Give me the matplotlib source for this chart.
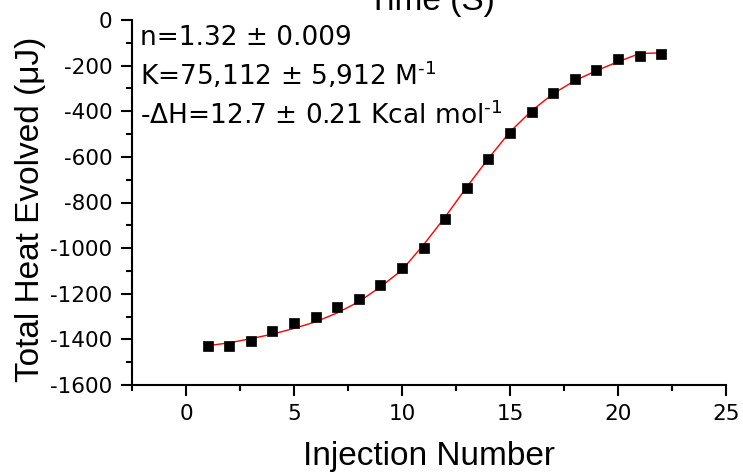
import matplotlib
matplotlib.use("Agg")
import matplotlib.pyplot as plt
from matplotlib.ticker import MultipleLocator

plt.rcParams["axes.unicode_minus"] = False

# ---- data ----
injection = [1, 2, 3, 4, 5, 6, 7, 8, 9, 10, 11, 12, 13, 14, 15, 16, 17, 18, 19, 20, 21, 22]
heat = [-1430, -1428, -1408, -1365, -1329, -1304, -1260, -1225, -1162, -1089, -999,
        -874, -736, -609, -495, -405, -319, -260, -217, -173, -157, -151]
fit = [-1428, -1415, -1397, -1377, -1352, -1323, -1284, -1235, -1170, -1096, -985,
       -863, -732, -607, -490, -398, -323, -266, -222, -183, -147, -144]
x_ticks = [0, 5, 10, 15, 20, 25]
y_ticks = [0, -200, -400, -600, -800, -1000, -1200, -1400, -1600]
annotations = ["n=1.32 ± 0.009",
               r"K=75,112 ± 5,912 M$^{\text{-}1}$",
               r"-ΔH=12.7 ± 0.21 Kcal mol$^{\text{-}1}$"]

W, H = 743, 475
fig = plt.figure(figsize=(W / 100, H / 100), dpi=100)
left, right, bottom, top = 132, 726, 385, 20
ax = fig.add_axes([left / W, 1 - bottom / H, (right - left) / W, (bottom - top) / H])

ax.plot(injection, fit, color="#ff0000", lw=1.0, zorder=2)
ax.plot(injection, heat, "s", color="black", ms=7.6, mec="black", mew=0.5, zorder=3)

ax.set_xlim(-2.5, 25)
ax.set_ylim(-1600, 0)
ax.set_xticks(x_ticks)
ax.set_yticks(y_ticks)
ax.xaxis.set_minor_locator(MultipleLocator(2.5))
ax.yaxis.set_minor_locator(MultipleLocator(100))

for s in ("top", "right"):
    ax.spines[s].set_visible(False)
for s in ("left", "bottom"):
    ax.spines[s].set_linewidth(1.5)

ax.tick_params(which="major", direction="out", length=8, width=1.5, labelsize=15.5, pad=6)
ax.tick_params(which="minor", direction="out", length=4.5, width=1.5)
for lab in ax.get_xticklabels() + ax.get_yticklabels():
    lab.set_family("DejaVu Sans")

ax.set_xlabel("Injection Number", fontsize=24, family="Liberation Sans", labelpad=12)
ax.set_ylabel("Total Heat Evolved (μJ)", fontsize=24, family="Liberation Sans")
ax.yaxis.set_label_coords((46 - left) / (right - left), 0.481)

ys = [0.9315, 0.822, 0.715]
for txt, y in zip(annotations, ys):
    ax.text(0.0135, y, txt, transform=ax.transAxes, fontsize=19,
            family="DejaVu Sans", va="baseline", ha="left")

fig.text(431 / W, 1 - 10 / H, "Time (S)", fontsize=24, family="Liberation Sans",
         ha="center", va="baseline")

fig.savefig("out.png", dpi=100)
